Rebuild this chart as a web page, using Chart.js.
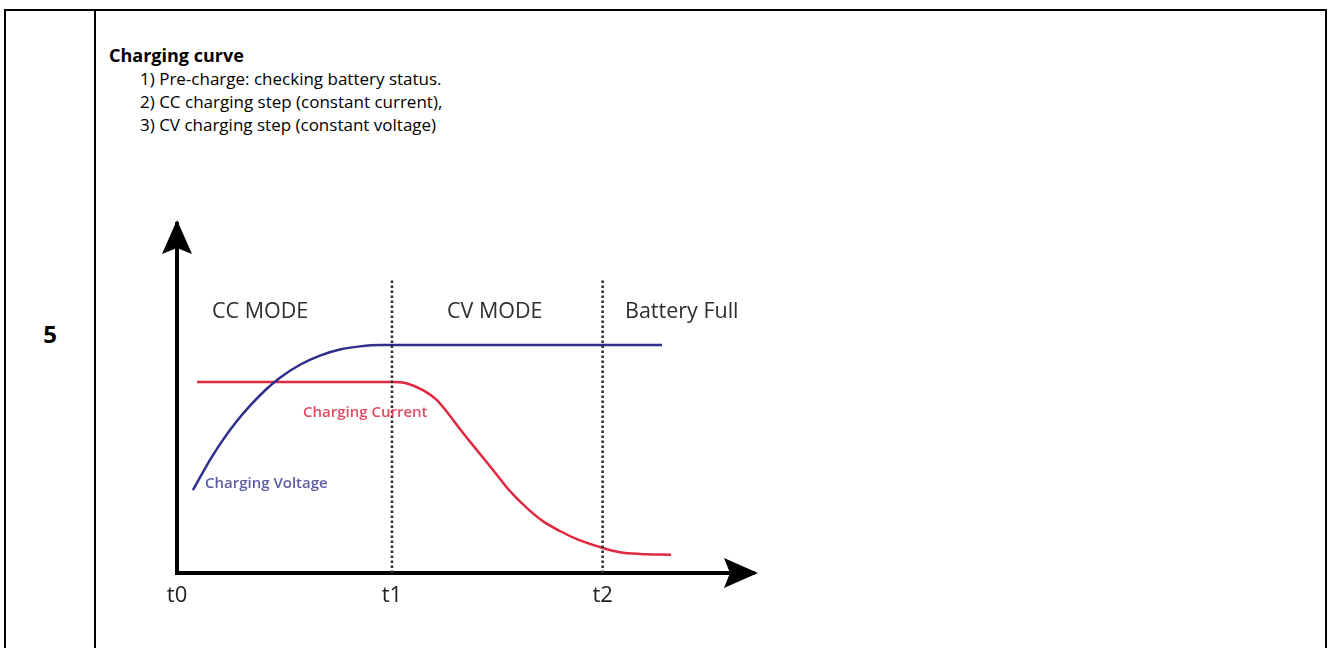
<!DOCTYPE html>
<html>
<head>
<meta charset="utf-8">
<script src="https://cdn.jsdelivr.net/npm/chart.js@4.4.1/dist/chart.umd.min.js"></script>
<style>
  html, body { margin: 0; padding: 0; background: #fff; }
  body { width: 1328px; height: 648px; position: relative; overflow: hidden; font-family: 'Open Sans', sans-serif; color: #000; }
  #frame { position: absolute; left: 4px; top: 9px; width: 1319px; height: 700px; border: 2px solid #000; border-bottom: none; }
  #divider { position: absolute; left: 94px; top: 9px; width: 2px; height: 700px; background: #000; }
  #num { position: absolute; left: 6px; width: 88px; top: 319px; text-align: center; font-weight: 700; font-size: 24px; line-height: 30px; }
  #text { position: absolute; left: 109px; top: 44px; line-height: 23px; }
  #text .title { font-weight: 700; font-size: 18px; }
  #text .item { font-size: 17px; padding-left: 31px; }
  #chartBox { position: absolute; left: 140px; top: 190px; width: 660px; height: 440px; }
</style>
</head>
<body>
<div id="frame"></div>
<div id="divider"></div>
<div id="num">5</div>
<div id="text">
  <div class="title">Charging curve</div>
  <div class="item">1) Pre-charge: checking battery status.</div>
  <div class="item">2) CC charging step (constant current),</div>
  <div class="item">3) CV charging step (constant voltage)</div>
</div>
<div id="chartBox"><canvas id="curveChart" width="660" height="440"></canvas></div>

<script>
// time marks on the x axis
const timeTicks = [0, 1, 1.98];
const timeLabels = ['t0', 't1', 't2'];

// charging voltage (blue)
const voltX = [0.074, 0.107, 0.153, 0.209, 0.274, 0.340, 0.409, 0.479, 0.572, 0.665, 0.758, 0.851, 0.944, 2.256];
const voltY = [23.5, 27.1, 32.0, 37.3, 42.7, 47.4, 51.7, 55.3, 59.0, 61.6, 63.3, 64.2, 64.6, 64.6];

// charging current (red)
const currX = [0.093, 1.0, 1.070, 1.144, 1.209, 1.256, 1.316, 1.395, 1.470, 1.549, 1.628, 1.702, 1.781, 1.860, 1.981, 2.060, 2.153, 2.298];
const currY = [54.1, 54.1, 53.7, 51.8, 49.0, 45.6, 40.8, 34.8, 29.2, 23.2, 18.4, 14.7, 11.9, 9.6, 7.1, 5.9, 5.4, 5.2];

// height of the dotted phase markers
const markerTop = 83.6;

function toPoints(xs, ys) {
    return xs.map((x, i) => ({ x: x, y: ys[i] }));
}

// labels drawn inside the plot, in data coordinates
const notes = [
    { text: 'CC MODE', x: 0.163, y: 72.2, font: '21.5px "Open Sans"', color: '#2e2e2e' },
    { text: 'CV MODE', x: 1.256, y: 72.2, font: '21.5px "Open Sans"', color: '#2e2e2e' },
    { text: 'Battery Full', x: 2.084, y: 72.2, font: '21.5px "Open Sans"', color: '#2e2e2e' },
    { text: 'Charging Current', x: 0.586, y: 44.2, font: '600 15px "Open Sans"', color: '#e24a60' },
    { text: 'Charging Voltage', x: 0.13, y: 24.1, font: '600 15px "Open Sans"', color: '#5b5ea3' }
];

const notesPlugin = {
    id: 'notes',
    afterDatasetsDraw(chart) {
        const { ctx, scales } = chart;
        ctx.save();
        ctx.textBaseline = 'alphabetic';
        ctx.textAlign = 'left';
        notes.forEach(n => {
            ctx.font = n.font;
            ctx.fillStyle = n.color;
            ctx.fillText(n.text, scales.x.getPixelForValue(n.x), scales.y.getPixelForValue(n.y));
        });
        ctx.restore();
    }
};

// arrow heads at the ends of both axes
const arrowPlugin = {
    id: 'axisArrows',
    afterDraw(chart) {
        const { ctx, chartArea: a } = chart;
        ctx.save();
        ctx.fillStyle = '#000';
        // y axis, pointing up
        let tx = a.left, ty = a.top - 4;
        ctx.beginPath();
        ctx.moveTo(tx, ty);
        ctx.lineTo(tx + 15, ty + 34);
        ctx.lineTo(tx, ty + 28);
        ctx.lineTo(tx - 15, ty + 34);
        ctx.closePath();
        ctx.fill();
        // x axis, pointing right
        tx = a.right + 4; ty = a.bottom;
        ctx.beginPath();
        ctx.moveTo(tx, ty);
        ctx.lineTo(tx - 34, ty - 15);
        ctx.lineTo(tx - 28, ty);
        ctx.lineTo(tx - 34, ty + 15);
        ctx.closePath();
        ctx.fill();
        ctx.restore();
    }
};

const ctx = document.getElementById('curveChart').getContext('2d');
const curveChart = new Chart(ctx, {
    type: 'line',
    data: {
        datasets: [
            {
                label: 't1',
                data: [{ x: timeTicks[1], y: 0 }, { x: timeTicks[1], y: markerTop }],
                borderColor: '#2b2b2b',
                borderWidth: 2.5,
                borderDash: [2.5, 2.5],
                pointRadius: 0
            },
            {
                label: 't2',
                data: [{ x: timeTicks[2], y: 0 }, { x: timeTicks[2], y: markerTop }],
                borderColor: '#2b2b2b',
                borderWidth: 2.5,
                borderDash: [2.5, 2.5],
                pointRadius: 0
            },
            {
                label: 'Charging Voltage',
                data: toPoints(voltX, voltY),
                borderColor: '#2e2e8c',
                borderWidth: 2.5,
                pointRadius: 0,
                cubicInterpolationMode: 'monotone'
            },
            {
                label: 'Charging Current',
                data: toPoints(currX, currY),
                borderColor: '#e0283f',
                borderWidth: 2.5,
                pointRadius: 0,
                cubicInterpolationMode: 'monotone'
            }
        ]
    },
    options: {
        responsive: false,
        animation: false,
        layout: { padding: { left: 37, right: 46, top: 34, bottom: 0 } },
        plugins: {
            legend: { display: false },
            tooltip: { enabled: false }
        },
        scales: {
            x: {
                type: 'linear',
                min: 0,
                max: 2.684,
                grid: { display: false, drawTicks: false },
                border: { display: true, color: '#000', width: 4 },
                afterBuildTicks: s => { s.ticks = timeTicks.map(v => ({ value: v })); },
                afterFit: s => { s.height = 57; },
                ticks: {
                    autoSkip: false,
                    maxRotation: 0,
                    padding: 10,
                    color: '#222',
                    font: { family: 'Open Sans', size: 22 },
                    callback: (v, i) => timeLabels[i]
                }
            },
            y: {
                type: 'linear',
                min: 0,
                max: 98.87,
                grid: { display: false, drawTicks: false },
                border: { display: true, color: '#000', width: 4 },
                ticks: { display: false },
                afterFit: s => { s.width = 0; }
            }
        }
    },
    plugins: [notesPlugin, arrowPlugin]
});
</script>
</body>
</html>
